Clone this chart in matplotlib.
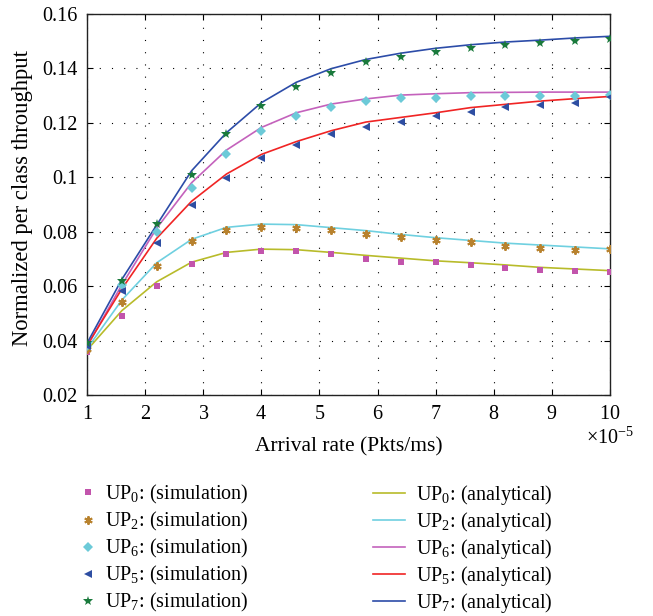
import matplotlib
matplotlib.use("Agg")
import matplotlib.pyplot as plt
from matplotlib.ticker import ScalarFormatter

plt.rcParams['font.family'] = ['Liberation Serif', 'DejaVu Serif']
plt.rcParams['mathtext.fontset'] = 'custom'
plt.rcParams['mathtext.rm'] = 'Liberation Serif'
plt.rcParams['mathtext.it'] = 'Liberation Serif:italic'
plt.rcParams['mathtext.default'] = 'regular'

# ---- data ----
arrival_rate = [1e-5, 1.6e-5, 2.2e-5, 2.8e-5, 3.4e-5, 4.0e-5, 4.6e-5, 5.2e-5,
                5.8e-5, 6.4e-5, 7.0e-5, 7.6e-5, 8.2e-5, 8.8e-5, 9.4e-5, 10e-5]

up0_sim = [0.0357, 0.0490, 0.0600, 0.0680, 0.0717, 0.0728, 0.0730, 0.0717,
           0.0701, 0.0690, 0.0687, 0.0678, 0.0668, 0.0659, 0.0657, 0.0651]
up0_ana = [0.0365, 0.0510, 0.0616, 0.0688, 0.0724, 0.0736, 0.0734, 0.0724,
           0.0713, 0.0703, 0.0693, 0.0686, 0.0678, 0.0669, 0.0663, 0.0657]
up2_sim = [0.0370, 0.0540, 0.0674, 0.0765, 0.0807, 0.0818, 0.0815, 0.0805,
           0.0793, 0.0782, 0.0768, 0.0761, 0.0748, 0.0739, 0.0733, 0.0736]
up2_ana = [0.0370, 0.0549, 0.0686, 0.0772, 0.0816, 0.0828, 0.0826, 0.0815,
           0.0804, 0.0790, 0.0778, 0.0768, 0.0758, 0.0751, 0.0744, 0.0737]
up6_sim = [0.0380, 0.0605, 0.0800, 0.0962, 0.1086, 0.1169, 0.1224, 0.1257,
           0.1279, 0.1290, 0.1292, 0.1299, 0.1299, 0.1300, 0.1300, 0.1302]
up6_ana = [0.0378, 0.0605, 0.0813, 0.0980, 0.1100, 0.1183, 0.1237, 0.1269,
           0.1288, 0.1302, 0.1307, 0.1311, 0.1312, 0.1313, 0.1313, 0.1313]
up5_sim = [0.0380, 0.0583, 0.0757, 0.0897, 0.0998, 0.1070, 0.1120, 0.1159,
           0.1186, 0.1204, 0.1226, 0.1239, 0.1257, 0.1267, 0.1274, 0.1294]
up5_ana = [0.0382, 0.0590, 0.0776, 0.0912, 0.1012, 0.1084, 0.1131, 0.1171,
           0.1203, 0.1220, 0.1237, 0.1256, 0.1268, 0.1280, 0.1289, 0.1297]
up7_sim = [0.0390, 0.0620, 0.0828, 0.1008, 0.1158, 0.1262, 0.1331, 0.1382,
           0.1422, 0.1443, 0.1459, 0.1474, 0.1485, 0.1492, 0.1500, 0.1507]
up7_ana = [0.0390, 0.0625, 0.0825, 0.1024, 0.1164, 0.1274, 0.1349, 0.1399,
           0.1433, 0.1456, 0.1474, 0.1487, 0.1497, 0.1504, 0.1512, 0.1518]

x_ticks = [1e-5, 2e-5, 3e-5, 4e-5, 5e-5, 6e-5, 7e-5, 8e-5, 9e-5, 10e-5]
y_ticks = [0.02, 0.04, 0.06, 0.08, 0.10, 0.12, 0.14, 0.16]
y_ticklabels = ['0.02', '0.04', '0.06', '0.08', '0.1', '0.12', '0.14', '0.16']

# ---- figure ----
W, H = 653, 616
FS = 14.5
fig = plt.figure(figsize=(W / 100, H / 100), dpi=100)
ax = fig.add_axes([87 / W, (H - 395) / H, (610 - 87) / W, (395 - 14) / H])

line_specs = [
    (up0_ana, '#b8bb2a'),
    (up2_ana, '#6fd0e0'),
    (up6_ana, '#c462bc'),
    (up5_ana, '#f02424'),
    (up7_ana, '#2c4ca8'),
]
marker_specs = [
    (up0_sim, 's', '#c254ac', 4.5, 'none'),
    (up2_sim, (6, 2, 0), '#b8822e', 6, 'same'),
    (up6_sim, 'D', '#6ccad8', 4.8, 'none'),
    (up5_sim, '<', '#2e4ea2', 6, 'none'),
    (up7_sim, '*', '#1a7a3c', 7.5, 'none'),
]
names = ['0', '2', '6', '5', '7']

line_handles = []
for (vals, col), n in zip(line_specs, names):
    h, = ax.plot(arrival_rate, vals, color=col, lw=1.2,
                 label='UP$_{%s}$: (analytical)' % n, zorder=2)
    line_handles.append(h)

marker_handles = []
for (vals, m, col, ms, ec), n in zip(marker_specs, names):
    kw = dict(markeredgecolor=col, markeredgewidth=1.4) if ec == 'same' else dict(markeredgewidth=0)
    h, = ax.plot(arrival_rate, vals, linestyle='none', marker=m, color=col,
                 markersize=ms, label='UP$_{%s}$: (simulation)' % n, zorder=3, **kw)
    marker_handles.append(h)

ax.set_xlim(1e-5, 10e-5)
ax.set_ylim(0.02, 0.16)
ax.set_xticks(x_ticks)
ax.set_yticks(y_ticks)
ax.set_yticklabels(y_ticklabels)

fmt = ScalarFormatter(useMathText=True)
fmt.set_powerlimits((-5, -5))
ax.xaxis.set_major_formatter(fmt)

ax.grid(True, color='black', linestyle=(0, (1, 10)), lw=0.8)
ax.tick_params(direction='in', length=4, width=0.8, top=True, right=True,
               labelsize=FS, pad=7, colors='black')
for s in ax.spines.values():
    s.set_linewidth(1.0)
    s.set_color('#222222')

ax.set_xlabel('Arrival rate (Pkts/ms)', fontsize=15.5, labelpad=10)
ax.set_ylabel('Normalized per class throughput', fontsize=16.3)
ax.yaxis.set_label_coords(-0.103, 0.518)
ot = ax.xaxis.get_offset_text()
ot.set_fontsize(FS)
ot.set_horizontalalignment('center')

leg1 = fig.legend(handles=marker_handles, loc='upper left',
                  bbox_to_anchor=(78 / W, 1 - 483 / H), frameon=False,
                  fontsize=FS, handlelength=1.0, handletextpad=0.35,
                  labelspacing=0.2, borderpad=0, borderaxespad=0)
leg2 = fig.legend(handles=line_handles, loc='upper left',
                  bbox_to_anchor=(373 / W, 1 - 483 / H), frameon=False,
                  fontsize=FS, handlelength=1.6, handletextpad=0.55,
                  labelspacing=0.15, borderpad=0, borderaxespad=0)

fig.savefig('out.png', dpi=100)
